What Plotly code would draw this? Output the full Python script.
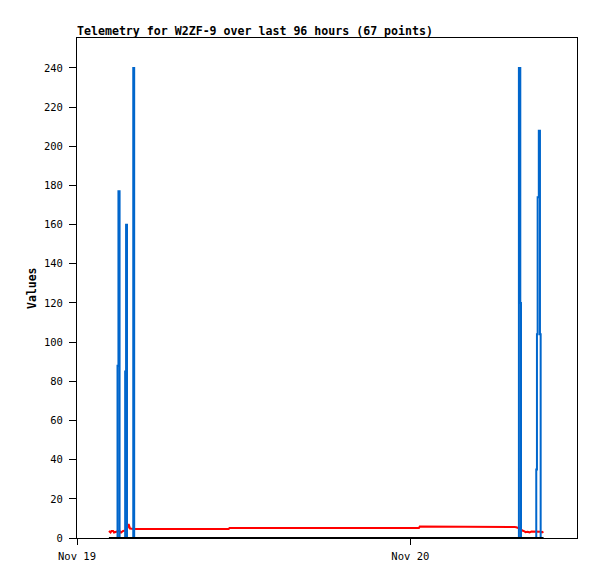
import plotly.graph_objects as go

# Timestamps (shared by all series)
times = [
    "2023-11-19 02:18", "2023-11-19 02:25", "2023-11-19 02:29", "2023-11-19 02:36",
    "2023-11-19 02:40", "2023-11-19 02:53", "2023-11-19 02:55", "2023-11-19 02:59",
    "2023-11-19 03:04", "2023-11-19 03:10", "2023-11-19 03:19", "2023-11-19 03:25",
    "2023-11-19 03:28", "2023-11-19 03:32", "2023-11-19 03:36", "2023-11-19 03:43",
    "2023-11-19 03:49", "2023-11-19 03:56", "2023-11-19 04:00", "2023-11-19 04:03",
    "2023-11-19 04:07", "2023-11-19 04:45", "2023-11-19 05:59", "2023-11-19 07:15",
    "2023-11-19 08:30", "2023-11-19 09:45", "2023-11-19 10:55", "2023-11-19 10:59",
    "2023-11-19 12:30", "2023-11-19 13:55", "2023-11-19 15:30", "2023-11-19 17:31",
    "2023-11-19 19:15", "2023-11-19 21:07", "2023-11-19 22:45", "2023-11-20 00:37",
    "2023-11-20 00:41", "2023-11-20 01:45", "2023-11-20 02:53", "2023-11-20 04:00",
    "2023-11-20 05:03", "2023-11-20 06:10", "2023-11-20 06:51", "2023-11-20 07:05",
    "2023-11-20 07:21", "2023-11-20 07:30", "2023-11-20 07:38", "2023-11-20 07:46",
    "2023-11-20 07:49", "2023-11-20 07:55", "2023-11-20 07:58", "2023-11-20 08:04",
    "2023-11-20 08:13", "2023-11-20 08:17", "2023-11-20 08:26", "2023-11-20 08:35",
    "2023-11-20 08:43", "2023-11-20 08:52", "2023-11-20 09:02", "2023-11-20 09:04",
    "2023-11-20 09:07", "2023-11-20 09:10", "2023-11-20 09:15", "2023-11-20 09:20",
    "2023-11-20 09:23", "2023-11-20 09:29", "2023-11-20 09:35",
]

# Blue spikes series
spike_values = [
    0, 0, 0, 0,
    0, 0, 88, 177,
    0, 0, 0, 0,
    85, 160, 0, 0,
    0, 0, 0, 240,
    0, 0, 0, 0,
    0, 0, 0, 0,
    0, 0, 0, 0,
    0, 0, 0, 0,
    0, 0, 0, 0,
    0, 0, 0, 0,
    0, 0, 0, 0,
    240, 120, 0, 0,
    0, 0, 0, 0,
    0, 0, 0, 35,
    104, 174, 208, 104,
    0, 0, 0,
]

# Red series
red_values = [
    3.6, 2.8, 3.6, 3.6,
    2.8, 3.6, 3.6, 3.6,
    3.6, 2.8, 3.6, 3.6,
    3.6, 3.8, 4.5, 7.1,
    4.8, 4.6, 4.6, 4.6,
    4.6, 4.6, 4.6, 4.6,
    4.6, 4.6, 4.6, 5.1,
    5.1, 5.1, 5.1, 5.1,
    5.1, 5.1, 5.1, 5.1,
    5.9, 5.9, 5.9, 5.9,
    5.9, 5.9, 5.9, 5.9,
    5.9, 5.6, 5.5, 5.3,
    5.0, 4.7, 4.4, 3.8,
    3.4, 3.0, 3.2, 2.9,
    3.3, 3.3, 3.2, 3.3,
    3.3, 3.2, 3.3, 3.3,
    3.2, 2.9, 3.3,
]

# Black series (zero line)
zero_values = [0] * len(times)

x_range = ["2023-11-19 00:00", "2023-11-20 12:00"]
x_tickvals = ["2023-11-19 00:00", "2023-11-20 00:00"]
x_ticktext = ["Nov 19", "Nov 20"]
y_tickvals = list(range(0, 241, 20))

fig = go.Figure()
fig.add_trace(go.Scatter(x=times, y=red_values, mode="lines",
                         line=dict(color="#FF0000", width=2), showlegend=False))
fig.add_trace(go.Scatter(x=times, y=spike_values, mode="lines",
                         line=dict(color="#0066CC", width=2, shape="hv"), showlegend=False))
fig.add_trace(go.Scatter(x=times, y=zero_values, mode="lines",
                         line=dict(color="#000000", width=2), showlegend=False))

font_main = "DejaVu Sans Mono"

# page has an 8px body margin, so the figure is offset by (8, 8)
fig.update_layout(
    width=597, height=579,
    margin=dict(l=69, r=28, t=30, b=49, autoexpand=False),
    paper_bgcolor="white", plot_bgcolor="white",
    showlegend=False,
    title=dict(text="<b>Telemetry for W2ZF-9 over last 96 hours (67 points)</b>",
               x=69/597, xanchor="left", xref="container",
               y=1 - 23/579, yanchor="middle", yref="container",
               font=dict(family=font_main, size=11.6, color="black")),
    xaxis=dict(type="date", range=x_range, tickvals=x_tickvals, ticktext=x_ticktext,
               automargin=False, ticklabelstandoff=2,
               showgrid=False, zeroline=False, showline=True, mirror=True,
               linecolor="black", linewidth=1, ticks="outside", ticklen=6,
               tickcolor="black", tickfont=dict(family=font_main, size=10.5, color="black")),
    yaxis=dict(range=[0, 255.3], tickvals=y_tickvals, automargin=False,
               ticklabelstandoff=4,
               showgrid=False, zeroline=False, showline=True, mirror=True,
               linecolor="black", linewidth=1, ticks="outside", ticklen=7,
               tickcolor="black", tickfont=dict(family=font_main, size=10.5, color="black")),
    annotations=[dict(text="<b>Values</b>", textangle=-90, xref="paper", yref="paper",
                      x=-45/500, y=0.5, xanchor="center", yanchor="middle",
                      showarrow=False,
                      font=dict(family=font_main, size=11.5, color="black"))],
)

fig.write_html("out.html")
